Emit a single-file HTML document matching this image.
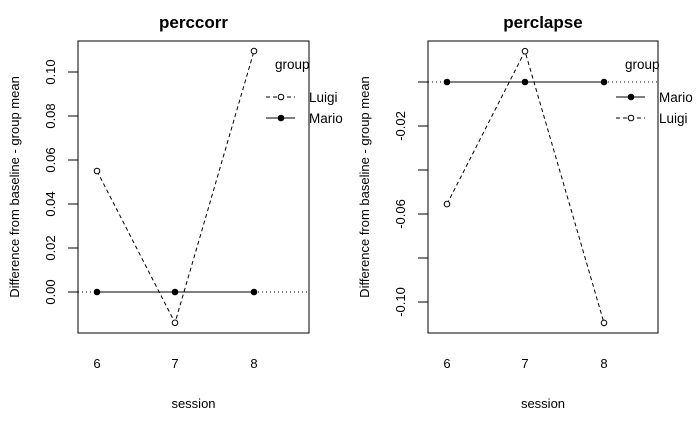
<!DOCTYPE html>
<html><head><meta charset="utf-8"><style>
body{margin:0;background:#fff}
svg{display:block;font-family:"Liberation Sans",Arial,sans-serif}
</style></head><body>
<svg id="c" width="700" height="432"></svg>
<script>
const sessions=[6,7,8];
const corrLuigi=[0.055,-0.014,0.1095];
const corrMario=[0,0,0];
const lapseLuigi=[-0.0555,0.014,-0.1095];
const lapseMario=[0,0,0];
const corrTicks=[0.00,0.02,0.04,0.06,0.08,0.10];
const corrTickLabels=["0.00","0.02","0.04","0.06","0.08","0.10"];
const lapseTicks=[0,-0.02,-0.04,-0.06,-0.08,-0.10];
const lapseTickLabels=["","-0.02","","-0.06","","-0.10"];

const svg=document.getElementById('c');
const NS='http://www.w3.org/2000/svg';
function mk(t,a,name,parent){const e=document.createElementNS(NS,t);for(const k in a)e.setAttribute(k,a[k]);


(parent||svg).appendChild(e);return e;}
function txt(x,y,s,name,extra){const e=mk('text',Object.assign({x:x,y:y,'font-size':14,'text-anchor':'middle'},extra||{}),name);e.textContent=s;return e;}

function panel(o){
  const {left,right,top,bottom,y0,ppu,xs,title,series,ticks,labels,legend,id}=o;
  const X=i=>xs[i];
  const Y=v=>y0-v*ppu;
  const g=mk('g',{},id+'-panel');
  mk('line',{x1:left,x2:right,y1:Y(0),y2:Y(0),stroke:'#000','stroke-dasharray':'1,3'},id+'-zero-line',g);
  series.forEach(s=>{
    const pts=s.vals.map((v,i)=>X(i)+','+Y(v)).join(' ');
    mk('polyline',{points:pts,fill:'none',stroke:'#000','stroke-dasharray':s.dash?'4,3':'none'},id+'-line-'+s.name,g);
    s.vals.forEach((v,i)=>{mk('circle',{cx:X(i),cy:Y(v),r:2.8,fill:s.filled?'#000':'#fff',stroke:'#000'},id+'-point-'+s.name+'-'+sessions[i],g);});
  });
  mk('rect',{x:left,y:top,width:right-left,height:bottom-top,fill:'none',stroke:'#000'},id+'-plot-box',g);
  ticks.forEach((t,i)=>{
    mk('line',{x1:left,x2:left-10,y1:Y(t),y2:Y(t),stroke:'#000'},id+'-y-tick',g);
    if(labels[i]) txt(left-23,Y(t),labels[i],id+'-y-tick-label',{transform:`rotate(-90 ${left-23} ${Y(t)})`,'font-size':13});
  });
  sessions.forEach((s,i)=>txt(X(i),368,String(s),id+'-x-tick-label',{'font-size':13}));
  txt((left+right)/2,408,'session',id+'-x-axis-title',{'font-size':13});
  const yc=(top+bottom)/2, yx=left-59;
  txt(yx,yc,'Difference from baseline - group mean',id+'-y-axis-title',{transform:`rotate(-90 ${yx} ${yc})`,'font-size':13});
  txt((left+right)/2,28,title,id+'-title',{'font-weight':'bold','font-size':17});
  const lx=legend.x;
  txt(lx+9,69,'group',id+'-legend-title',{'text-anchor':'start','font-size':13.5});
  legend.items.forEach((it,k)=>{
    const y=97+k*21;
    mk('line',{x1:lx,x2:lx+29,y1:y,y2:y,stroke:'#000','stroke-dasharray':it.dash?'4,3':'none'},id+'-legend-line-'+it.name,g);
    mk('circle',{cx:lx+15,cy:y,r:2.8,fill:it.filled?'#000':'#fff',stroke:'#000'},id+'-legend-marker-'+it.name,g);
    txt(lx+43,y+5,it.label,id+'-legend-entry-'+it.name,{'text-anchor':'start','font-size':13.5});
  });
}
panel({id:'perccorr',left:78,right:309,top:41,bottom:333,y0:292,ppu:2200,xs:[97,175,254],title:'perccorr',
  ticks:corrTicks,labels:corrTickLabels,
  series:[{name:'mario',vals:corrMario,dash:false,filled:true},{name:'luigi',vals:corrLuigi,dash:true,filled:false}],
  legend:{x:266,items:[{name:'luigi',label:'Luigi',dash:true,filled:false},{name:'mario',label:'Mario',dash:false,filled:true}]}});
panel({id:'perclapse',left:428,right:658,top:41,bottom:333,y0:82,ppu:2200,xs:[447,525,604],title:'perclapse',
  ticks:lapseTicks,labels:lapseTickLabels,
  series:[{name:'mario',vals:lapseMario,dash:false,filled:true},{name:'luigi',vals:lapseLuigi,dash:true,filled:false}],
  legend:{x:616,items:[{name:'mario',label:'Mario',dash:false,filled:true},{name:'luigi',label:'Luigi',dash:true,filled:false}]}});
</script>
</body></html>
